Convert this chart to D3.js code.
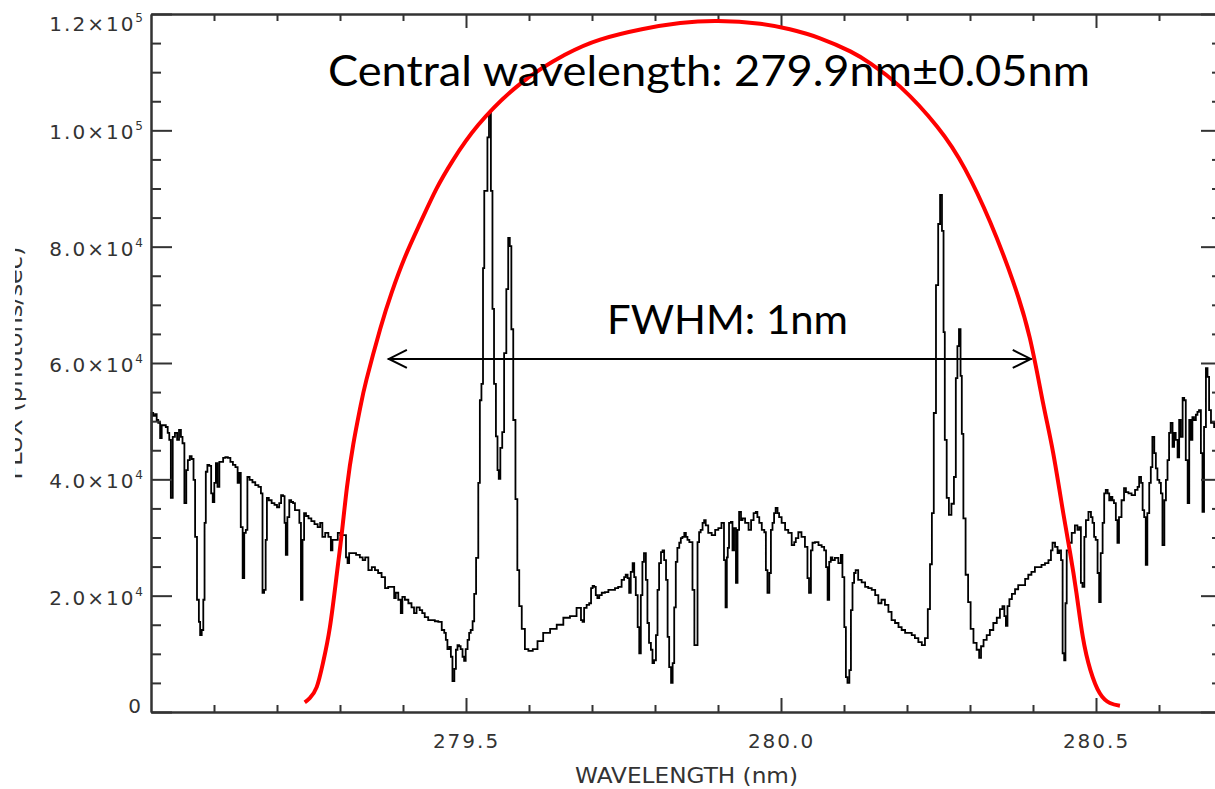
<!DOCTYPE html>
<html><head><meta charset="utf-8">
<script src="https://cdn.jsdelivr.net/npm/d3@7"></script>
<style>
html,body{margin:0;padding:0;background:#fff;}
svg{display:block;background:#fff;}
</style>
</head><body>
<svg id="chart" width="1215" height="789"></svg>
<script>
// ---------------- DATA ----------------
// spectrum: [wavelength (nm), flux (10^3 photons/sec)]
const spectrum = [
[279.000,45.0],[279.002,51.4],[279.005,50.9],[279.008,51.2],[279.010,50.2],[279.013,49.7],[279.016,47.1],[279.018,49.3],[279.022,49.3],[279.025,49.0],
[279.028,48.0],[279.030,46.8],[279.033,36.8],[279.036,47.3],[279.040,48.0],[279.043,46.8],[279.046,48.5],[279.049,47.3],[279.051,46.2],[279.055,35.9],
[279.057,41.6],[279.060,43.3],[279.063,44.0],[279.066,43.5],[279.069,39.9],[279.071,30.1],[279.075,19.3],[279.077,15.5],[279.079,13.2],[279.082,14.1],
[279.084,19.3],[279.086,32.5],[279.088,41.3],[279.091,42.5],[279.094,42.3],[279.097,37.6],[279.099,36.1],[279.102,39.4],[279.104,42.8],[279.107,38.7],
[279.110,43.0],[279.113,43.0],[279.116,43.7],[279.120,43.8],[279.124,43.7],[279.128,43.0],[279.132,42.5],[279.136,42.1],[279.139,39.4],[279.141,41.1],
[279.144,31.8],[279.147,23.0],[279.149,30.8],[279.152,31.3],[279.154,40.4],[279.159,39.9],[279.163,39.5],[279.168,39.0],[279.173,38.7],[279.176,37.6],
[279.178,20.5],[279.181,21.0],[279.183,29.6],[279.185,36.8],[279.189,36.4],[279.194,35.9],[279.198,35.6],[279.202,35.2],[279.205,35.9],[279.208,37.3],
[279.211,37.1],[279.213,32.5],[279.215,27.0],[279.218,33.5],[279.221,36.4],[279.224,36.1],[279.227,35.9],[279.230,34.7],[279.234,34.7],[279.237,32.5],
[279.239,19.3],[279.242,29.6],[279.244,34.2],[279.248,33.7],[279.252,33.3],[279.257,32.8],[279.262,32.3],[279.267,31.8],[279.270,32.5],[279.274,30.1],
[279.279,30.8],[279.284,30.1],[279.287,27.8],[279.289,29.6],[279.295,29.6],[279.298,30.8],[279.303,30.4],[279.308,30.4],[279.311,26.6],[279.313,25.6],
[279.316,27.3],[279.322,27.3],[279.329,27.0],[279.334,26.6],[279.338,26.1],[279.342,26.6],[279.348,24.4],[279.353,24.9],[279.358,24.4],[279.363,23.9],
[279.369,23.2],[279.374,21.3],[279.379,21.5],[279.385,21.5],[279.387,19.6],[279.390,20.5],[279.395,19.3],[279.398,17.0],[279.400,19.8],[279.406,19.3],
[279.411,18.7],[279.416,18.0],[279.419,17.0],[279.424,18.0],[279.429,17.5],[279.432,17.0],[279.437,16.3],[279.443,15.8],[279.448,15.8],[279.453,15.6],
[279.459,15.5],[279.464,14.1],[279.467,13.6],[279.469,12.4],[279.472,10.8],[279.475,11.2],[279.477,9.5],[279.480,5.3],[279.483,7.4],[279.485,10.7],
[279.488,11.5],[279.490,11.3],[279.493,10.8],[279.496,9.5],[279.498,8.8],[279.501,10.8],[279.504,12.4],[279.506,13.6],[279.509,14.1],[279.512,15.6],
[279.514,20.3],[279.518,26.5],[279.521,39.4],[279.523,53.6],[279.526,56.4],[279.528,76.3],[279.530,89.6],[279.533,89.6],[279.535,98.8],[279.538,103.1],
[279.541,89.6],[279.543,69.3],[279.546,56.4],[279.549,47.4],[279.551,41.6],[279.553,40.1],[279.556,45.4],[279.559,48.1],[279.562,61.7],[279.566,72.7],
[279.568,81.5],[279.571,80.1],[279.573,65.8],[279.577,50.2],[279.580,36.6],[279.583,24.4],[279.586,18.2],[279.591,14.3],[279.596,10.8],[279.602,10.5],
[279.610,10.8],[279.617,12.2],[279.628,13.6],[279.639,14.3],[279.649,15.0],[279.660,16.2],[279.670,16.5],
[279.681,17.9],[279.684,15.8],[279.686,15.5],[279.689,17.9],[279.694,18.4],[279.697,18.7],[279.700,21.3],[279.702,21.7],[279.705,21.5],[279.707,20.1],
[279.710,19.6],[279.713,20.1],[279.718,20.5],[279.723,20.6],[279.729,21.0],[279.734,21.0],[279.739,21.3],[279.744,21.5],[279.750,22.7],[279.752,23.2],
[279.755,23.6],[279.758,23.0],[279.760,20.5],[279.763,24.1],[279.766,25.6],[279.768,23.2],[279.771,20.1],[279.774,14.6],[279.776,10.1],[279.779,20.1],
[279.781,25.8],[279.784,27.3],[279.787,22.7],[279.789,15.3],[279.792,11.9],[279.795,10.7],[279.797,8.4],[279.800,8.9],[279.803,13.2],[279.805,21.0],
[279.808,25.6],[279.811,27.5],[279.813,27.8],[279.816,26.1],[279.819,22.7],[279.821,12.9],[279.824,7.7],[279.827,5.0],[279.829,8.4],[279.832,18.0],
[279.834,25.8],[279.837,28.2],[279.840,29.1],[279.842,29.9],[279.845,30.1],[279.848,30.8],[279.850,30.1],[279.853,29.6],[279.856,29.2],[279.858,29.2],
[279.861,21.0],[279.864,11.5],[279.866,11.5],[279.869,29.2],[279.871,30.9],[279.874,31.3],[279.877,32.5],[279.879,33.0],[279.882,32.1],[279.887,30.8],
[279.893,30.4],[279.898,31.3],[279.903,31.6],[279.908,32.5],[279.911,26.1],[279.913,18.0],[279.915,26.6],[279.916,28.2],[279.919,32.5],[279.922,32.7],
[279.924,27.8],[279.927,31.6],[279.930,22.2],[279.932,31.3],[279.935,34.4],[279.938,33.0],[279.940,33.3],[279.946,32.5],[279.951,31.3],[279.954,33.0],
[279.959,34.2],[279.961,34.4],[279.964,33.5],[279.967,32.5],[279.972,31.3],[279.975,30.9],[279.977,24.4],[279.980,20.5],[279.983,23.9],[279.985,31.3],
[279.988,32.5],[279.990,34.2],[279.993,35.1],[279.996,34.2],[279.998,33.5],[280.004,32.5],[280.009,31.3],[280.014,30.8],[280.020,28.7],[280.022,29.2],
[280.025,29.9],[280.030,30.9],[280.035,30.1],[280.041,28.4],[280.043,23.0],[280.046,20.5],[280.049,27.8],[280.051,29.1],[280.057,29.2],[280.062,28.7],
[280.067,28.4],[280.070,27.8],[280.073,24.9],[280.075,19.3],[280.078,25.8],[280.080,26.6],[280.083,26.1],[280.088,26.5],[280.094,25.6],[280.096,27.0],
[280.099,23.2],[280.102,14.6],[280.104,6.0],[280.107,5.0],[280.110,7.2],[280.112,17.5],[280.115,22.2],[280.117,23.9],[280.120,24.4],[280.125,22.7],
[280.131,22.3],[280.136,21.5],[280.141,21.3],[280.147,21.0],[280.152,20.1],[280.157,18.7],[280.162,19.3],[280.168,18.4],[280.173,17.2],[280.178,15.8],
[280.184,15.3],[280.189,14.6],[280.194,14.1],[280.200,13.6],[280.205,13.6],[280.210,13.2],[280.215,12.7],[280.221,12.0],
[280.226,11.5],[280.231,12.7],[280.235,17.7],[280.238,25.4],[280.241,34.2],[280.244,51.4],[280.248,73.4],[280.251,83.9],[280.254,88.9],[280.257,82.7],
[280.259,65.3],[280.261,46.8],[280.265,36.8],[280.268,33.9],[280.273,35.8],[280.276,40.4],[280.279,57.4],[280.281,62.9],[280.284,65.8],[280.286,57.8],
[280.288,47.8],[280.291,33.3],[280.295,23.6],[280.299,18.9],[280.303,14.3],[280.308,11.9],[280.313,10.7],[280.316,9.3],[280.319,11.3],[280.324,12.4],
[280.329,13.2],[280.334,14.1],[280.340,15.3],[280.345,16.2],[280.350,17.7],[280.353,18.2],[280.356,16.5],[280.358,14.8],[280.361,18.2],[280.364,19.4],
[280.369,20.3],[280.374,21.1],[280.379,21.8],[280.385,21.8],[280.390,22.9],[280.395,23.6],
[280.400,24.1],[280.406,24.9],[280.411,24.9],[280.416,25.3],[280.422,25.6],[280.427,26.1],[280.430,27.8],[280.432,29.1],[280.438,28.4],[280.440,27.3],
[280.443,27.8],[280.446,26.1],[280.448,10.1],[280.451,8.9],[280.452,18.7],[280.455,27.8],[280.459,29.1],[280.464,30.8],[280.469,32.1],[280.472,31.3],
[280.475,31.8],[280.477,22.2],[280.480,21.5],[280.483,30.1],[280.485,33.0],[280.491,34.4],[280.493,33.5],[280.496,32.5],[280.498,30.1],[280.501,29.6],
[280.504,23.9],[280.506,18.9],[280.509,27.3],[280.512,32.5],[280.514,37.6],[280.517,38.2],[280.520,37.6],[280.522,36.4],[280.525,37.0],[280.527,36.4],
[280.530,35.9],[280.533,33.0],[280.535,29.1],[280.538,33.5],[280.543,36.4],[280.546,38.5],[280.549,37.8],[280.554,37.6],[280.559,37.3],[280.565,38.2],
[280.567,38.7],[280.570,40.4],[280.573,39.4],[280.575,34.7],[280.578,33.5],[280.580,25.3],[280.583,34.2],[280.586,39.4],[280.588,42.1],[280.591,47.3],
[280.594,44.5],[280.596,41.9],[280.599,39.9],[280.602,39.4],[280.604,37.6],[280.607,28.7],[280.610,36.4],[280.612,39.9],[280.615,43.3],[280.617,48.0],
[280.620,49.7],[280.623,45.6],[280.625,48.0],[280.628,46.8],[280.631,43.8],[280.633,50.2],[280.636,47.3],[280.639,54.0],[280.641,53.6],[280.644,43.3],
[280.647,35.9],[280.649,50.2],[280.652,46.8],[280.654,50.7],[280.657,50.2],[280.660,51.1],[280.662,51.6],[280.665,51.9],[280.668,44.5],[280.670,34.4],
[280.673,49.0],[280.676,59.1],[280.678,57.6],[280.681,51.9],[280.684,49.7],[280.686,49.7],[280.689,49.0],[280.700,50.0]
];

// filter transmission curve (red): [wavelength (nm), relative transmission]
const filterCurve = [
[279.244,0.014],[279.252,0.020],[279.263,0.036],[279.273,0.071],[279.284,0.123],[279.295,0.200],[279.303,0.260],[279.311,0.325],
[279.321,0.387],[279.332,0.440],[279.342,0.481],[279.364,0.555],[279.382,0.607],[279.403,0.658],[279.427,0.707],[279.453,0.757],
[279.479,0.798],[279.519,0.849],[279.586,0.909],[279.657,0.951],[279.713,0.973],[279.779,0.988],[279.840,0.997],[279.900,1.000],
[279.967,0.996],[280.014,0.988],[280.062,0.975],[280.110,0.956],[280.143,0.938],[280.189,0.905],[280.248,0.847],[280.292,0.786],
[280.332,0.709],[280.368,0.624],[280.395,0.541],[280.416,0.447],[280.432,0.375],[280.448,0.288],[280.459,0.230],[280.469,0.172],
[280.479,0.109],[280.491,0.061],[280.506,0.027],[280.522,0.013],[280.538,0.009]
];
const filterPeakFlux = 118800;          // filter peak drawn at this flux level

const xDomain = [279.0, 280.7];
const yDomain = [0, 120000];
const xTickMajor = [279.5, 280.0, 280.5];
const xTickLabels = ["279.5", "280.0", "280.5"];
const xTickMinor = [279.1, 279.2, 279.3, 279.4, 279.6, 279.7, 279.8, 279.9, 280.1, 280.2, 280.3, 280.4, 280.6];
const yTickMajor = [0, 20000, 40000, 60000, 80000, 100000, 120000];
const yTickMantissa = ["0", "2.0", "4.0", "6.0", "8.0", "1.0", "1.2"];
const yTickExponent = ["", "4", "4", "4", "4", "5", "5"];
const yTickMinor = [5000, 10000, 15000, 25000, 30000, 35000, 45000, 50000, 55000, 65000, 70000, 75000, 85000, 90000, 95000, 105000, 110000, 115000];

const xTitle = "WAVELENGTH (nm)";
const yTitle = "FLUX (photons/sec)";
const titleText = "Central wavelength: 279.9nm\u00B10.05nm";
const fwhmText = "FWHM: 1nm";
const fwhmRange = [279.376, 280.398];
const fwhmLevel = 60700;

// ---------------- DRAW ----------------
const svg = d3.select("#chart");
const W = 1215, H = 789;
const x = d3.scaleLinear().domain(xDomain).range([151, 1222]);
const y = d3.scaleLinear().domain(yDomain).range([712, 14]);
const yT = d3.scaleLinear().domain([0, 1]).range([y(0), y(filterPeakFlux)]);

svg.append("rect").attr("width", W).attr("height", H).attr("fill", "#fff");

const axisColor = "#333";
const tickFont = "'DejaVu Sans', 'Liberation Sans', sans-serif";

function styleAxis(g) {
  g.selectAll(".domain").attr("stroke", axisColor).attr("stroke-width", 2);
  g.selectAll(".tick line").attr("stroke", axisColor).attr("stroke-width", 2);
  g.selectAll(".tick text").attr("fill", "#333").attr("font-family", tickFont)
    .attr("font-size", 20).attr("letter-spacing", 2);
}

// spectrum
svg.append("path")
  .datum(spectrum)
  .attr("fill", "none")
  .attr("stroke", "#000")
  .attr("stroke-width", 1.8)
  .attr("d", d3.line().x(d => x(d[0])).y(d => y(d[1] * 1000)).curve(d3.curveStep));

// axes (box)
const bottomMajor = svg.append("g").attr("transform", `translate(0,${y(0)})`)
  .call(d3.axisBottom(x).tickValues(xTickMajor).tickSizeInner(-14).tickSizeOuter(0)
    .tickPadding(22).tickFormat((d, i) => xTickLabels[i]));
styleAxis(bottomMajor);
const bottomMinor = svg.append("g").attr("transform", `translate(0,${y(0)})`)
  .call(d3.axisBottom(x).tickValues(xTickMinor).tickSizeInner(-7).tickSizeOuter(0).tickFormat(""));
styleAxis(bottomMinor);

const topMajor = svg.append("g").attr("transform", `translate(0,${y(120000)})`)
  .call(d3.axisTop(x).tickValues(xTickMajor).tickSizeInner(-14).tickSizeOuter(0).tickFormat(""));
styleAxis(topMajor);
const topMinor = svg.append("g").attr("transform", `translate(0,${y(120000)})`)
  .call(d3.axisTop(x).tickValues(xTickMinor).tickSizeInner(-7).tickSizeOuter(0).tickFormat(""));
styleAxis(topMinor);

const leftMajor = svg.append("g").attr("transform", `translate(${x(xDomain[0])},0)`)
  .call(d3.axisLeft(y).tickValues(yTickMajor).tickSizeInner(-21).tickSizeOuter(0).tickFormat(""));
styleAxis(leftMajor);
const leftMinor = svg.append("g").attr("transform", `translate(${x(xDomain[0])},0)`)
  .call(d3.axisLeft(y).tickValues(yTickMinor).tickSizeInner(-10).tickSizeOuter(0).tickFormat(""));
styleAxis(leftMinor);

const rightMajor = svg.append("g").attr("transform", `translate(${x(xDomain[1])},0)`)
  .call(d3.axisRight(y).tickValues(yTickMajor).tickSizeInner(-21).tickSizeOuter(0).tickFormat(""));
styleAxis(rightMajor);
const rightMinor = svg.append("g").attr("transform", `translate(${x(xDomain[1])},0)`)
  .call(d3.axisRight(y).tickValues(yTickMinor).tickSizeInner(-10).tickSizeOuter(0).tickFormat(""));
styleAxis(rightMinor);

// y tick labels with superscript exponent
const yLab = svg.append("g").attr("font-family", tickFont).attr("fill", "#333");
yTickMajor.forEach((v, i) => {
  const base = Math.max(31, Math.min(713, y(v) + 9));
  const t = yLab.append("text").attr("x", x(xDomain[0]) - 8).attr("y", base)
    .attr("text-anchor", "end").attr("font-size", 20);
  if (yTickExponent[i]) {
    t.append("tspan").attr("letter-spacing", 2).text(yTickMantissa[i] + "\u00D710");
    t.append("tspan").attr("font-size", 12).attr("dy", -9).text(yTickExponent[i]);
  } else {
    t.append("tspan").attr("letter-spacing", 2).text(yTickMantissa[i]);
  }
});

// axis titles
svg.append("text")
  .attr("x", (x(xDomain[0]) + x(xDomain[1])) / 2).attr("y", 783)
  .attr("text-anchor", "middle").attr("font-family", tickFont).attr("font-size", 21)
  .attr("fill", "#333").attr("textLength", 223).attr("lengthAdjust", "spacingAndGlyphs")
  .text(xTitle);

svg.append("clipPath").attr("id", "ylabclip")
  .append("rect").attr("x", 15).attr("y", 0).attr("width", 40).attr("height", H);
svg.append("g").attr("clip-path", "url(#ylabclip)")
  .append("text")
  .attr("transform", `translate(22,${(y(0) + y(120000)) / 2}) rotate(-90)`)
  .attr("text-anchor", "middle").attr("font-family", tickFont).attr("font-size", 21)
  .attr("fill", "#333").attr("textLength", 233).attr("lengthAdjust", "spacingAndGlyphs")
  .text(yTitle);

// filter curve
svg.append("path")
  .datum(filterCurve)
  .attr("fill", "none")
  .attr("stroke", "#ff0000")
  .attr("stroke-width", 4)
  .attr("d", d3.line().x(d => x(d[0])).y(d => yT(d[1])).curve(d3.curveNatural));

// FWHM arrow
const ax0 = x(fwhmRange[0]), ax1 = x(fwhmRange[1]), ay = y(fwhmLevel);
const arrowG = svg.append("g").attr("stroke", "#000").attr("stroke-width", 2).attr("fill", "none");
arrowG.append("line").attr("x1", ax0).attr("x2", ax1).attr("y1", ay).attr("y2", ay);
arrowG.append("path").attr("d", `M${ax0 + 19},${ay - 9}L${ax0 + 1},${ay}L${ax0 + 19},${ay + 9}`);
arrowG.append("path").attr("d", `M${ax1 - 19},${ay - 9}L${ax1 - 1},${ay}L${ax1 - 19},${ay + 9}`);

// annotations
const annFont = "Lato, 'Open Sans', 'Noto Sans', sans-serif";
svg.append("text")
  .attr("x", 328).attr("y", 86)
  .attr("font-family", annFont).attr("font-size", 43).attr("fill", "#000")
  .attr("textLength", 762).attr("lengthAdjust", "spacingAndGlyphs")
  .text(titleText);
svg.append("text")
  .attr("x", 607).attr("y", 334)
  .attr("font-family", annFont).attr("font-size", 41).attr("fill", "#000")
  .attr("textLength", 241).attr("lengthAdjust", "spacingAndGlyphs")
  .text(fwhmText);
</script>
</body></html>
